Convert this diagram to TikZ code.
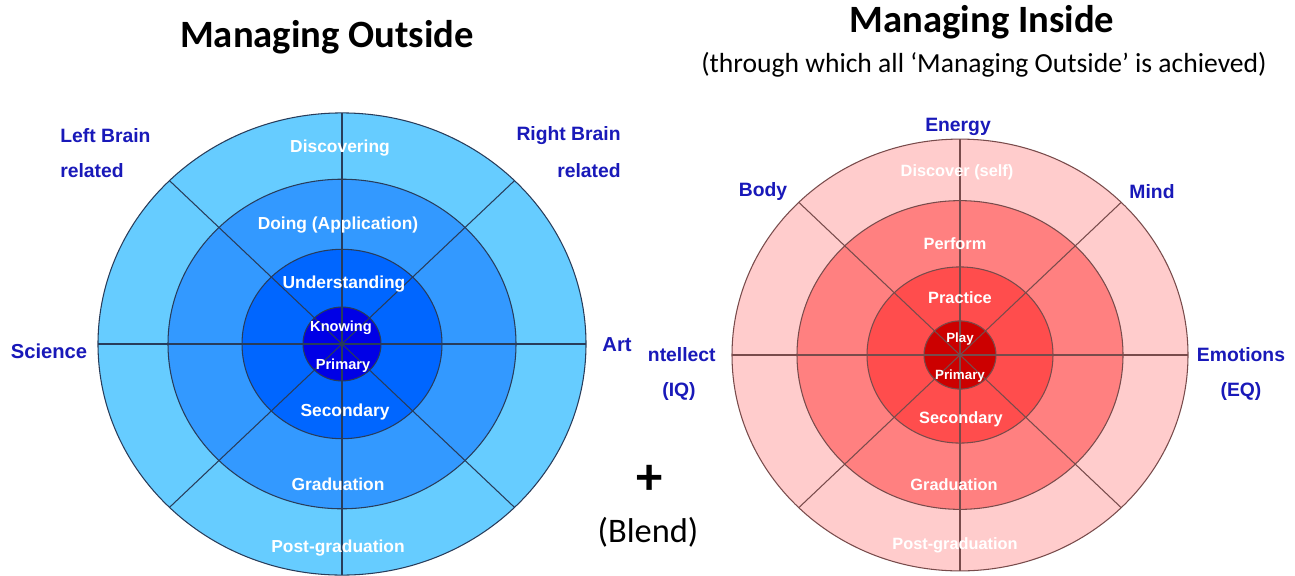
\documentclass[tikz,border=0pt]{standalone}
\usepackage{fontspec}
\setmainfont{Liberation Sans}
\newfontfamily\calibri{Carlito}
\definecolor{bA}{RGB}{102,204,255}
\definecolor{bB}{RGB}{51,153,255}
\definecolor{bC}{RGB}{0,102,255}
\definecolor{bD}{RGB}{0,0,230}
\definecolor{rA}{RGB}{255,204,204}
\definecolor{rB}{RGB}{255,128,128}
\definecolor{rC}{RGB}{255,77,77}
\definecolor{rD}{RGB}{204,0,0}
\definecolor{lblue}{RGB}{25,25,185}
\definecolor{lineL}{RGB}{40,60,90}
\definecolor{lineR}{RGB}{120,75,75}
\begin{document}
\begin{tikzpicture}[x=0.02cm,y=-0.02cm,
  outer/.style={font=\bfseries\fontsize{11}{13}\selectfont, text=lblue, inner sep=0, yshift=-1.1pt},
  ringL/.style={font=\bfseries\fontsize{9.9}{11}\selectfont, text=white, inner sep=0, yshift=-1.1pt},
  coreL/.style={font=\bfseries\fontsize{8.3}{10}\selectfont, text=white, inner sep=0, yshift=-0.8pt},
  ringR/.style={font=\bfseries\fontsize{9.3}{11}\selectfont, text=white, inner sep=0, yshift=-1.1pt},
  coreR/.style={font=\bfseries\fontsize{7.6}{9}\selectfont, text=white, inner sep=0, yshift=-0.8pt},
  title/.style={font=\calibri\bfseries\fontsize{22}{26}\selectfont, text=black, inner sep=0},
  wl/.style={draw=lineL, line width=0.6pt},
  wr/.style={draw=lineR, line width=0.6pt}]
\useasboundingbox (0,0) rectangle (1295,575);
\clip (0,0) rectangle (1295,575);
\fill[white] (0,0) rectangle (1295,575);

% left wheel
\begin{scope}[shift={(342,344)}, yscale=0.947]
  \fill[bA] (0,0) circle (244);
  \fill[bB] (0,0) circle (174);
  \fill[bC] (0,0) circle (100);
  \fill[bD] (0,0) circle (39);
  \foreach \r in {244,174,100,39} \draw[wl] (0,0) circle (\r);
  \foreach \a in {0,45,...,315} \draw[wl] (0,0) -- (\a:244);
\end{scope}

% right wheel
\begin{scope}[shift={(960,355)}, yscale=0.947]
  \fill[rA] (0,0) circle (228);
  \fill[rB] (0,0) circle (163);
  \fill[rC] (0,0) circle (93);
  \fill[rD] (0,0) circle (36);
  \foreach \r in {228,163,93,36} \draw[wr] (0,0) circle (\r);
  \foreach \a in {0,45,...,315} \draw[wr] (0,0) -- (\a:228);
\end{scope}

% titles
\node[title] (t1) at (327,37) {Managing Outside};
\node[title] (t2) at (982,22) {Managing Inside};
\node[inner sep=0, font=\calibri\fontsize{15.7}{18}\selectfont] (sub) at (984,65) {(through which all ‘Managing Outside’ is achieved)};
\node[inner sep=0, font=\calibri\bfseries\fontsize{30}{34}\selectfont] (plus) at (650,480) {+};
\node[inner sep=0, font=\calibri\fontsize{19.6}{22}\selectfont] (blend) at (648,532) {(Blend)};

% left outer labels
\node[outer, anchor=west] (lb1) at (60,134) {Left Brain};
\node[outer, anchor=west] (lb2) at (60,169) {related};
\node[outer, anchor=east] (rb1) at (621,134) {Right Brain};
\node[outer, anchor=east] (rb2) at (621,169) {related};
\node[outer, font=\bfseries\fontsize{11.5}{13}\selectfont] (sci) at (49,349) {Science};
\node[outer, font=\bfseries\fontsize{11.5}{13}\selectfont] (art) at (617,343) {Art};

% left ring labels
\node[ringL] (l1) at (340,146) {Discovering};
\node[ringL] (l2) at (338,223) {Doing (Application)};
\node[ringL] (l3) at (344,282) {Understanding};
\node[coreL] (l4) at (341,326) {Knowing};
\node[coreL] (l5) at (343,364) {Primary};
\node[ringL] (l6) at (345,410) {Secondary};
\node[ringL] (l7) at (338,482) {Graduation};
\node[ringL] (l8) at (338,546) {Post-graduation};

% right outer labels
\node[outer] (en) at (958,125) {Energy};
\node[outer] (bo) at (763,190) {Body};
\node[outer] (mi) at (1152,190) {Mind};
\node[outer, anchor=east] (in1) at (716,353) {ntellect};
\node[outer] (in2) at (679,390) {(IQ)};
\node[outer] (em1) at (1241,353) {Emotions};
\node[outer] (em2) at (1241,390) {(EQ)};

% right ring labels
\node[ringR] (r1) at (957,170) {Discover (self)};
\node[ringR] (r2) at (955,242) {Perform};
\node[ringR] (r3) at (960,296) {Practice};
\node[coreR] (r4) at (960,338) {Play};
\node[coreR] (r5) at (960,375) {Primary};
\node[ringR] (r6) at (961,417) {Secondary};
\node[ringR] (r7) at (954,483) {Graduation};
\node[ringR] (r8) at (955,543) {Post-graduation};
\end{tikzpicture}
\end{document}
